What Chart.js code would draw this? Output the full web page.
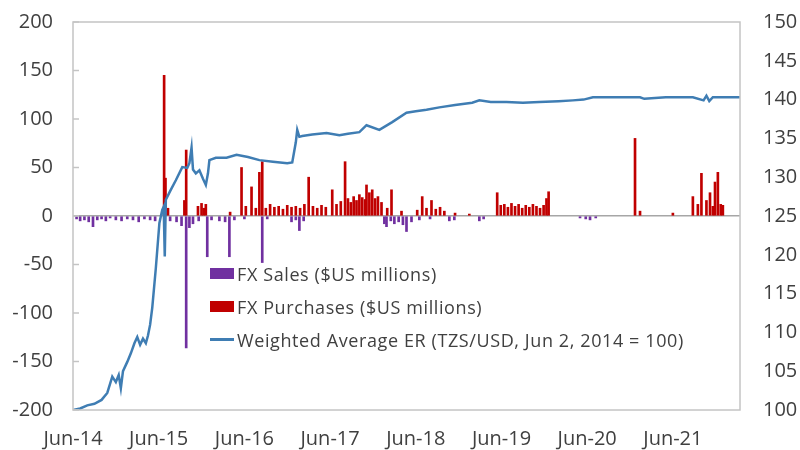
<!DOCTYPE html>
<html>
<head>
<meta charset="utf-8">
<script src="https://cdn.jsdelivr.net/npm/chart.js@4"></script>
<style>
  html, body { margin: 0; padding: 0; background: #fff; }
  #wrap { position: relative; width: 800px; height: 450px; }
  #legend { position: absolute; left: 210px; top: 257px; font-family: "Open Sans"; font-size: 18px; color: #404040; letter-spacing: 0.6px; }
  .row { display: flex; align-items: center; height: 33px; white-space: nowrap; }
  .sw { width: 24px; margin-right: 3px; }
</style>
</head>
<body>
<div id="wrap">
  <canvas id="chart" width="800" height="450"></canvas>
  <div id="legend"></div>
</div>
<script>
// x positions are months since Jun 2014
const tickMonths = [0, 12, 24, 36, 48, 60, 72, 84];
const tickLabels = ['Jun-14', 'Jun-15', 'Jun-16', 'Jun-17', 'Jun-18', 'Jun-19', 'Jun-20', 'Jun-21'];

const erMonths = [0, 1, 2, 3, 4, 4.8, 5.5, 6, 6.4, 6.7, 7, 7.6, 8.1, 8.6, 9, 9.4, 9.8, 10.2, 10.5, 10.8,
  11.1, 11.6, 12.1, 12.5, 12.7, 12.85, 13, 13.6, 14.4, 15.3, 16, 16.3, 16.6, 16.8, 17.2, 17.7, 18.2, 18.6, 18.9, 19.1,
  20, 21.5, 22.9, 24.5, 26.1, 28, 30, 30.7, 31.2, 31.4, 31.7, 32.1, 33.5, 35.5, 37.3, 38.5, 40.1, 41.1, 42.9, 44.7,
  46.7, 48, 49.5, 51.3, 53.5, 55.9, 56.9, 58.5, 60.7, 63, 65.3, 68, 70, 71.5, 72.8, 76, 79.4, 80, 83, 86.8,
  88.3, 88.7, 89.1, 89.6, 90.5, 93.4];
const erValues = [100.0, 100.2, 100.6, 100.8, 101.3, 102.2, 104.3, 103.6, 104.5, 102.8, 105.0, 106.2, 107.3, 108.6, 109.4, 108.4, 109.2, 108.6, 109.6, 111.0,
  113.2, 118.3, 124.1, 125.8, 126.2, 119.8, 127.1, 128.2, 129.6, 131.3, 131.2, 131.8, 133.8, 131.0, 130.5, 130.9, 129.8, 129.0, 130.5, 132.2,
  132.5, 132.5, 132.9, 132.6, 132.2, 132.0, 131.8, 131.9, 134.5, 136.1, 135.2, 135.3, 135.5, 135.7, 135.4, 135.6, 135.8, 136.7, 136.1, 137.1,
  138.3, 138.5, 138.7, 139.0, 139.3, 139.6, 139.9, 139.7, 139.7, 139.6, 139.7, 139.8, 139.9, 140.0, 140.3, 140.3, 140.3, 140.1, 140.3, 140.3,
  139.9, 140.5, 139.8, 140.3, 140.3, 140.3];

const buyMonths = [12.76, 12.95, 13.3, 15.6, 15.85, 17.5, 18.0, 18.3, 18.6, 22.0, 23.6, 24.2, 25.0, 25.6, 26.1, 26.5, 27.0, 27.6, 28.2, 28.8,
  29.4, 30.0, 30.6, 31.2, 31.8, 32.4, 33.0, 33.6, 34.2, 34.8, 35.4, 36.3, 36.9, 37.5, 38.1, 38.5, 38.9, 39.3, 39.7, 40.1,
  40.5, 40.9, 41.1, 41.5, 41.9, 42.3, 42.7, 43.2, 44.0, 44.6, 46.0, 48.2, 48.9, 49.5, 50.2, 50.8, 51.4, 52.0, 53.5, 55.5,
  59.4, 59.9, 60.4, 60.9, 61.4, 61.9, 62.4, 62.9, 63.4, 63.9, 64.4, 64.9, 65.4, 65.9, 66.3, 66.6, 78.7, 79.4, 84.0, 86.8,
  87.5, 88.0, 88.7, 89.2, 89.6, 89.9, 90.3, 90.7, 91.0];
const buyValues = [145, 39, 8, 16, 68, 10, 13, 8, 12, 4, 50, 10, 30, 8, 45, 56, 8, 12, 9, 10,
  7, 11, 9, 10, 8, 12, 40, 10, 8, 11, 9, 27, 12, 15, 56, 18, 14, 20, 16, 22,
  19, 17, 32, 24, 27, 18, 20, 14, 8, 27, 5, 6, 20, 8, 16, 7, 9, 5, 3, 2,
  24, 11, 12, 9, 13, 10, 12, 8, 11, 9, 12, 10, 8, 11, 18, 25, 80, 5, 3, 20,
  12, 44, 16, 24, 10, 35, 45, 12, 11];

const sellMonths = [0.5, 1.0, 1.6, 2.2, 2.8, 3.4, 4.0, 4.6, 5.2, 6.0, 6.8, 7.6, 8.4, 9.2, 10.0, 10.8, 11.5, 13.6, 14.5, 15.2,
  15.85, 16.3, 16.8, 17.6, 18.8, 19.4, 20.5, 21.3, 21.9, 22.6, 24.0, 26.5, 27.2, 30.6, 31.2, 31.7, 32.3, 43.6, 43.9, 44.5,
  45.0, 45.6, 46.2, 46.7, 47.4, 48.5, 50.0, 52.7, 53.4, 56.9, 57.5, 71.0, 71.8, 72.4, 73.2];
const sellValues = [-3, -5, -4, -6, -11, -4, -3, -5, -2, -4, -5, -3, -4, -6, -3, -4, -5, -5, -6, -10,
  -136, -12, -8, -5, -42, -4, -5, -6, -42, -4, -3, -48, -3, -6, -4, -15, -5, -8, -11, -5,
  -8, -6, -9, -16, -6, -4, -3, -5, -4, -5, -3, -2, -3, -4, -2];

const toPoints = (xs, ys) => xs.map((x, i) => ({ x: x, y: ys[i] }));

const framePlugin = {
  id: 'frame',
  afterDatasetsDraw(chart) {
    const { ctx, chartArea: a } = chart;
    const ys = chart.scales.y;
    ctx.save();
    ctx.strokeStyle = '#c4c4c4';
    ctx.lineWidth = 1.5;
    ctx.strokeRect(a.left, a.top, a.right - a.left, a.bottom - a.top);
    ys.ticks.forEach(t => {
      const p = ys.getPixelForValue(t.value);
      ctx.beginPath();
      ctx.moveTo(a.left, p);
      ctx.lineTo(a.left + 6, p);
      ctx.stroke();
    });
    ctx.restore();
  }
};

Chart.defaults.font.family = '"Open Sans"';
Chart.defaults.color = '#404040';

const chart = new Chart(document.getElementById('chart'), {
  type: 'bar',
  data: {
    datasets: [
      {
        type: 'bar',
        label: 'FX Sales ($US millions)',
        data: toPoints(sellMonths, sellValues),
        backgroundColor: '#7030a0',
        barThickness: 2,
        grouped: false,
        yAxisID: 'y',
        order: 2
      },
      {
        type: 'bar',
        label: 'FX Purchases ($US millions)',
        data: toPoints(buyMonths, buyValues),
        backgroundColor: '#c00000',
        barThickness: 2,
        grouped: false,
        yAxisID: 'y',
        order: 1
      },
      {
        type: 'line',
        label: 'Weighted Average ER (TZS/USD, Jun 2, 2014 = 100)',
        data: toPoints(erMonths, erValues),
        borderColor: '#3f7db3',
        borderWidth: 2.5,
        pointRadius: 0,
        tension: 0,
        yAxisID: 'y2',
        order: 0
      }
    ]
  },
  options: {
    responsive: false,
    animation: false,
    layout: { padding: { top: 22, left: 0, right: 0, bottom: 0 } },
    plugins: { legend: { display: false }, tooltip: { enabled: false } },
    scales: {
      x: {
        type: 'linear',
        min: 0,
        max: 93.4,
        offset: false,
        grid: { display: false, drawTicks: false },
        border: { display: false },
        afterBuildTicks: s => { s.ticks = tickMonths.map(v => ({ value: v })); },
        ticks: { callback: (v, i) => tickLabels[i], padding: 17, maxRotation: 0, autoSkip: false, font: { size: 20 } },
        afterFit: s => { s.height = 40; }
      },
      y: {
        position: 'left',
        min: -200,
        max: 200,
        ticks: { stepSize: 50, padding: 0, font: { size: 20 } },
        grid: {
          drawTicks: true, tickLength: 20, tickColor: 'rgba(0,0,0,0)', lineWidth: 1.5,
          color: c => c.tick.value === 0 ? '#a6a6a6' : 'rgba(0,0,0,0)'
        },
        border: { display: false },
        afterFit: s => { s.width = 73; }
      },
      y2: {
        position: 'right',
        min: 100,
        max: 150,
        ticks: { stepSize: 5, padding: 0, font: { size: 20 } },
        grid: { drawOnChartArea: false, drawTicks: true, tickLength: 23, tickColor: 'rgba(0,0,0,0)', color: 'rgba(0,0,0,0)' },
        border: { display: false },
        afterFit: s => { s.width = 60; }
      }
    }
  },
  plugins: [framePlugin]
});

// legend drawn inside the plot, like the original
const legend = document.getElementById('legend');
chart.data.datasets.forEach(ds => {
  const row = document.createElement('div');
  row.className = 'row';
  const sw = document.createElement('span');
  sw.className = 'sw';
  if (ds.type === 'line') {
    sw.style.height = '2.5px';
    sw.style.background = ds.borderColor;
  } else {
    sw.style.height = '11px';
    sw.style.background = ds.backgroundColor;
  }
  const txt = document.createElement('span');
  txt.textContent = ds.label;
  row.appendChild(sw);
  row.appendChild(txt);
  legend.appendChild(row);
});
</script>
</body>
</html>
